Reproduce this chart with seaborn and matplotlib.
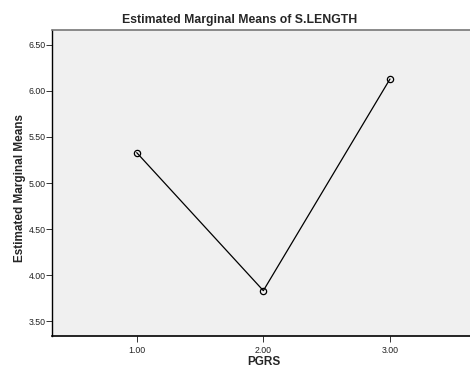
import matplotlib
matplotlib.use("Agg")
import matplotlib.pyplot as plt
import seaborn as sns
import pandas as pd

pgrs = [1.0, 2.0, 3.0]
means = [5.33, 3.83, 6.13]
yticks = [3.5, 4.0, 4.5, 5.0, 5.5, 6.0, 6.5]
xticks = [1.0, 2.0, 3.0]

df = pd.DataFrame({"PGRS": pgrs, "Mean": means})

sns.set_style("white")
plt.rcParams['font.family'] = ['Liberation Sans', 'DejaVu Sans']

fig = plt.figure(figsize=(4.7, 3.72), dpi=100)
ax = fig.add_axes([52/470, 36/372, 1 - 52/470, (336-30)/372])
ax.set_facecolor("#F0F0F0")

sns.lineplot(data=df, x="PGRS", y="Mean", ax=ax, color="black", linewidth=0.9,
             marker="o", markersize=4.5, markerfacecolor="none",
             markeredgecolor="black", markeredgewidth=0.9)

ax.set_xlim(0.331, 3.632)
ax.set_ylim(3.337, 6.663)
ax.set_xticks(xticks)
ax.set_xticklabels([f"{v:.2f}" for v in xticks])
ax.set_yticks(yticks)
ax.set_yticklabels([f"{v:.2f}" for v in yticks])
ax.tick_params(axis="both", direction="out", length=4, width=0.7,
               labelsize=6.3, colors="#333333", left=True, bottom=True)
ax.tick_params(axis="y", pad=0.5)
ax.tick_params(axis="x", pad=3)
for lab in ax.get_xticklabels() + ax.get_yticklabels():
    lab.set_color("#222222")

ax.spines["left"].set_color("black")
ax.spines["left"].set_linewidth(1.0)
ax.spines["bottom"].set_color("black")
ax.spines["bottom"].set_linewidth(1.2)
ax.spines["top"].set_color("#777777")
ax.spines["top"].set_linewidth(1.2)
ax.spines["right"].set_visible(False)

ax.set_xlabel("")
ax.set_ylabel("")
fig.text(264/470, 1 - 362/372, "PGRS", ha="center", va="center",
         fontsize=8.5, fontweight="bold")
fig.text(20/470, 1 - 188/372, "Estimated Marginal Means", ha="center", va="center",
         rotation=90, fontsize=8.5, fontweight="bold")
fig.text(240/470, 1 - 20/372, "Estimated Marginal Means of S.LENGTH",
         ha="center", va="center", fontsize=8.8, fontweight="bold")

fig.savefig("out.png", dpi=100)
